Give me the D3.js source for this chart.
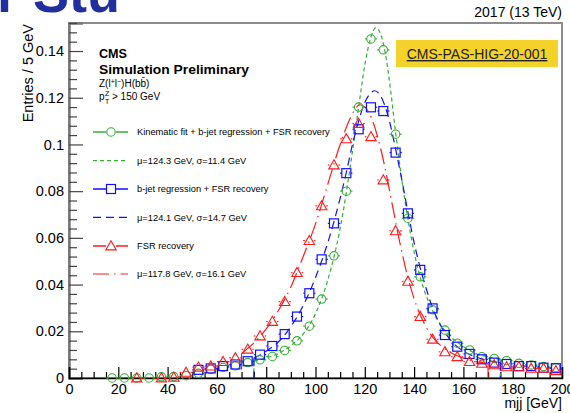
<!DOCTYPE html>
<html>
<head>
<meta charset="utf-8">
<script src="https://cdn.jsdelivr.net/npm/d3@7"></script>
<style>
  body { margin: 0; background: #ffffff; }
  svg { display: block; font-family: "Liberation Sans", Arial, sans-serif; }
</style>
</head>
<body>
<div id="chart"></div>
<script>
// Bin centres (5 GeV bins)
const binCenters = d3.range(17.5, 200, 5);

// Normalised entries per bin (null = no marker drawn)
const kinFitValues = [0, 0, 0, 0, 0.0005, 0.0006, 0.001, 0.002, 0.0037, 0.0045, 0.0052, 0.0066,
  0.0078, 0.0092, 0.0118, 0.0159, 0.0222, 0.0338, 0.0523, 0.080, 0.116, 0.1452, 0.1405, 0.1044,
  0.0684, 0.0433, 0.0292, 0.0205, 0.0149, 0.012, 0.0091, 0.0084, 0.0074, 0.0063, 0.0056, 0.0049, 0.0044];
const bjetValues = [null, null, null, null, null, null, null, 0.0035, 0.0041, 0.0051, 0.0058, 0.0072,
  0.0100, 0.0137, 0.0188, 0.0263, 0.0363, 0.0508, 0.0662, 0.0877, 0.1065, 0.1159, 0.1143, 0.0965,
  0.0705, 0.0463, 0.0298, 0.0184, 0.0134, 0.0103, 0.008, 0.0066, 0.006, 0.0051, 0.0051, 0.0044, 0.0042];
const fsrValues = [null, null, 0, null, 0, 0.0003, 0.0024, 0.0046, 0.0051, 0.007, 0.0086, 0.0123,
  0.018, 0.0242, 0.0327, 0.0451, 0.0588, 0.0737, 0.0912, 0.1024, 0.109, 0.1033, 0.0848, 0.063,
  0.0414, 0.0263, 0.0166, 0.0112, 0.0091, 0.007, 0.0063, 0.0056, 0.0048, 0.0048, 0.0041, 0.0041, 0.0031];

// Fit curves
const kinFitCurveX = [75, 80, 85, 90, 95, 100, 105, 110, 115, 117.5, 120, 122.5, 124.5, 126.5, 128.5,
  130.5, 132.5, 135, 137.5, 140, 142.5, 145, 150, 155, 160, 165, 170, 175];
const kinFitCurveY = [0.0072, 0.0085, 0.0105, 0.0138, 0.0188, 0.0275, 0.042, 0.064, 0.097, 0.116, 0.134,
  0.146, 0.150, 0.147, 0.138, 0.123, 0.105, 0.085, 0.068, 0.054, 0.043, 0.035, 0.024, 0.0175,
  0.0135, 0.0105, 0.009, 0.008];
const bjetCurveX = [75, 80, 85, 90, 95, 100, 105, 110, 112.5, 115, 117.5, 120, 122, 124, 126, 128,
  130, 132.5, 135, 137.5, 140, 142.5, 145, 147.5, 150, 155, 160, 165, 170, 175];
const bjetCurveY = [0.0085, 0.0115, 0.0155, 0.022, 0.031, 0.043, 0.058, 0.077, 0.088, 0.100, 0.110,
  0.118, 0.1215, 0.123, 0.1215, 0.117, 0.110, 0.098, 0.085, 0.071, 0.058, 0.047, 0.038, 0.030,
  0.024, 0.016, 0.0115, 0.009, 0.0075, 0.0065];
const fsrCurveX = [70, 75, 80, 85, 90, 95, 100, 105, 110, 114, 118, 122, 125, 128, 131, 134, 137.5,
  140, 142.5, 147.5, 152.5, 157.5, 162.5, 167.5, 170];
const fsrCurveY = [0.0105, 0.015, 0.021, 0.029, 0.039, 0.052, 0.066, 0.083, 0.100, 0.111, 0.117,
  0.113, 0.104, 0.091, 0.075, 0.059, 0.043, 0.034, 0.027, 0.0175, 0.0125, 0.0095, 0.0077, 0.0066, 0.0062];

const seriesLabels = ["Kinematic fit + b-jet regression + FSR recovery", "b-jet regression + FSR recovery", "FSR recovery"];
const fitLabels = ["\u03bc=124.3 GeV, \u03c3=11.4 GeV", "\u03bc=124.1 GeV, \u03c3=14.7 GeV", "\u03bc=117.8 GeV, \u03c3=16.1 GeV"];

const xTicks = d3.range(0, 201, 20);
const yTicks = [0, 0.02, 0.04, 0.06, 0.08, 0.1, 0.12, 0.14];

// Styles
const styles = [
  { color: "#35ad35", marker: "circle", dash: "4,3" },
  { color: "#1010ff", marker: "square", dash: "8,5" },
  { color: "#ff1a1a", marker: "triangle", dash: "16,5,1.5,5" },
];

const width = 570, height = 413;
const margin = { top: 23, right: 8, bottom: 35, left: 69 };

const svg = d3.select("#chart").append("svg")
  .attr("width", width)
  .attr("height", height);

const x = d3.scaleLinear().domain([0, 200]).range([margin.left, width - margin.right]);
const y = d3.scaleLinear().domain([0, 0.152]).range([height - margin.bottom, margin.top]);

// Slide heading cut off at the top
svg.append("text")
  .attr("x", -3).attr("y", 12)
  .attr("font-size", 54).attr("font-weight", "bold")
  .attr("fill", "#1f2f9e")
  .text("r Stu");

// Frame
svg.append("rect")
  .attr("x", x(0)).attr("y", y(0.152))
  .attr("width", x(200) - x(0)).attr("height", y(0) - y(0.152))
  .attr("fill", "none").attr("stroke", "#8c8c8c").attr("stroke-width", 2);

// Y axis: major + minor ticks pointing inward
const yAxis = svg.append("g")
  .attr("transform", `translate(${x(0)},0)`)
  .call(d3.axisLeft(y).tickValues(yTicks).tickSize(-14).tickPadding(5)
    .tickFormat(d => d === 0 ? "0" : String(+d.toFixed(2))));
yAxis.select(".domain").attr("stroke", "#777").attr("stroke-width", 2.5);
yAxis.selectAll(".tick line").attr("stroke", "#444").attr("stroke-width", 1.2);
yAxis.selectAll("text").attr("font-size", 14.5).attr("fill", "#000")
  .attr("font-family", "Liberation Sans, Arial, sans-serif");

const yMinor = d3.range(0, 0.1521, 0.004).filter(v => Math.abs(v / 0.02 - Math.round(v / 0.02)) > 1e-6);
const yMinorAxis = svg.append("g")
  .attr("transform", `translate(${x(0)},0)`)
  .call(d3.axisLeft(y).tickValues(yMinor).tickSize(-8).tickFormat(""));
yMinorAxis.select(".domain").remove();
yMinorAxis.selectAll(".tick line").attr("stroke", "#444").attr("stroke-width", 1.2);

// X axis
const xAxis = svg.append("g")
  .attr("transform", `translate(0,${y(0)})`)
  .call(d3.axisBottom(x).tickValues(xTicks).tickSize(-11).tickPadding(6));
xAxis.select(".domain").attr("stroke", "#000").attr("stroke-width", 1.5);
xAxis.selectAll(".tick line").attr("stroke", "#000").attr("stroke-width", 1.2);
xAxis.selectAll("text").attr("font-size", 14.5).attr("fill", "#000")
  .attr("font-family", "Liberation Sans, Arial, sans-serif");

const xMinor = d3.range(0, 201, 5).filter(v => v % 20 !== 0);
const xMinorAxis = svg.append("g")
  .attr("transform", `translate(0,${y(0)})`)
  .call(d3.axisBottom(x).tickValues(xMinor).tickSize(-6).tickFormat(""));
xMinorAxis.select(".domain").remove();
xMinorAxis.selectAll(".tick line").attr("stroke", "#000").attr("stroke-width", 1.2);

// Axis titles
svg.append("text")
  .attr("transform", `translate(33,${margin.top + 1}) rotate(-90)`)
  .attr("text-anchor", "end")
  .attr("font-size", 14.5)
  .text("Entries / 5 GeV");

svg.append("text")
  .attr("x", x(200)).attr("y", 408)
  .attr("text-anchor", "end")
  .attr("font-size", 14)
  .text("mjj [GeV]");

svg.append("text")
  .attr("x", x(200)).attr("y", 17)
  .attr("text-anchor", "end")
  .attr("font-size", 14)
  .text("2017 (13 TeV)");

// CMS labels
svg.append("text").attr("x", 99).attr("y", 58)
  .attr("font-size", 13.5).attr("font-weight", "bold")
  .attr("textLength", 28).attr("lengthAdjust", "spacingAndGlyphs").text("CMS");
svg.append("text").attr("x", 99).attr("y", 74)
  .attr("font-size", 12.5).attr("font-weight", "bold")
  .attr("textLength", 150).attr("lengthAdjust", "spacingAndGlyphs").text("Simulation Preliminary");

const proc = svg.append("text").attr("x", 99).attr("y", 87).attr("font-size", 10);
proc.append("tspan").text("Z(l");
proc.append("tspan").attr("dy", -3.5).attr("font-size", 7).text("+");
proc.append("tspan").attr("dy", 3.5).text("l");
proc.append("tspan").attr("dy", -3.5).attr("font-size", 7).text("\u2212");
proc.append("tspan").attr("dy", 3.5).text(")H(bb\u0304)");

svg.append("text").attr("x", 99).attr("y", 100).attr("font-size", 10).text("p");
svg.append("text").attr("x", 105).attr("y", 96).attr("font-size", 7).text("Z");
svg.append("text").attr("x", 105).attr("y", 103.5).attr("font-size", 7).text("T");
svg.append("text").attr("x", 112).attr("y", 100).attr("font-size", 10).text("> 150 GeV");

// Publication tag
svg.append("rect")
  .attr("x", 396).attr("y", 40).attr("width", 162).attr("height", 27)
  .attr("fill", "#f4d22a");
svg.append("text")
  .attr("x", 477).attr("y", 59)
  .attr("text-anchor", "middle")
  .attr("font-size", 14)
  .attr("fill", "#222")
  .attr("text-decoration", "underline")
  .text("CMS-PAS-HIG-20-001");

// Marker drawing helper
function drawMarker(g, type, cx, cy, color) {
  if (type === "circle") {
    g.append("circle").attr("cx", cx).attr("cy", cy).attr("r", 4.2)
      .attr("fill", "none").attr("stroke", color).attr("stroke-width", 1.1);
  } else if (type === "square") {
    g.append("rect").attr("x", cx - 4.5).attr("y", cy - 4.5).attr("width", 9).attr("height", 9)
      .attr("fill", "none").attr("stroke", color).attr("stroke-width", 1.2);
  } else {
    const s = 5.2;
    g.append("path")
      .attr("d", `M${cx},${cy - s}L${cx + s},${cy + s * 0.75}L${cx - s},${cy + s * 0.75}Z`)
      .attr("fill", "none").attr("stroke", color).attr("stroke-width", 1.1);
  }
}
const halfSize = { circle: 4.2, square: 4.5, triangle: 4.5 };

const curveLine = d3.line().x(d => x(d[0])).y(d => y(d[1])).curve(d3.curveMonotoneX);

const seriesValues = [kinFitValues, bjetValues, fsrValues];
const curves = [[kinFitCurveX, kinFitCurveY], [bjetCurveX, bjetCurveY], [fsrCurveX, fsrCurveY]];

// Fit curves
curves.forEach(([cx, cy], i) => {
  const pts = cx.map((v, j) => [v, cy[j]]);
  const g = svg.append("g").attr("fill", "none").attr("stroke", styles[i].color)
    .attr("stroke-width", 1.2).attr("stroke-dasharray", styles[i].dash);
  g.append("path").attr("d", curveLine(pts));
  // function drops to zero at the ends of its range
  [pts[0], pts[pts.length - 1]].forEach(p => {
    g.append("line").attr("x1", x(p[0])).attr("x2", x(p[0]))
      .attr("y1", y(p[1])).attr("y2", y(0));
  });
});

// Data points with bin-width error bars
seriesValues.forEach((vals, i) => {
  const st = styles[i];
  const g = svg.append("g");
  binCenters.forEach((bc, j) => {
    const v = vals[j];
    if (v === null) return;
    const px = x(bc), py = y(v), h = halfSize[st.marker];
    g.append("line").attr("x1", x(bc - 2.5)).attr("x2", px - h).attr("y1", py).attr("y2", py)
      .attr("stroke", st.color).attr("stroke-width", 1.1);
    g.append("line").attr("x1", px + h).attr("x2", x(bc + 2.5)).attr("y1", py).attr("y2", py)
      .attr("stroke", st.color).attr("stroke-width", 1.1);
    drawMarker(g, st.marker, px, py, st.color);
  });
});

// Legend
const legendRows = [132, 160.7, 189, 217.3, 246, 274];
const legend = svg.append("g");
styles.forEach((st, i) => {
  const yHist = legendRows[2 * i], yFit = legendRows[2 * i + 1];
  legend.append("line").attr("x1", 93).attr("x2", 128).attr("y1", yHist).attr("y2", yHist)
    .attr("stroke", st.color).attr("stroke-width", 1.8).attr("stroke-opacity", 0.75);
  const mg = legend.append("g");
  mg.append("rect").attr("x", 106).attr("y", yHist - 5).attr("width", 10).attr("height", 10).attr("fill", "#fff");
  drawMarker(mg, st.marker, 111, yHist, st.color);
  legend.append("text").attr("x", 137).attr("y", yHist + 3.3).attr("font-size", 9.3).text(seriesLabels[i]);

  legend.append("line").attr("x1", 93).attr("x2", 128).attr("y1", yFit).attr("y2", yFit)
    .attr("stroke", st.color).attr("stroke-width", 1.2).attr("stroke-dasharray", st.dash);
  legend.append("text").attr("x", 137).attr("y", yFit + 3.3).attr("font-size", 9.3).text(fitLabels[i]);
});
</script>
</body>
</html>
